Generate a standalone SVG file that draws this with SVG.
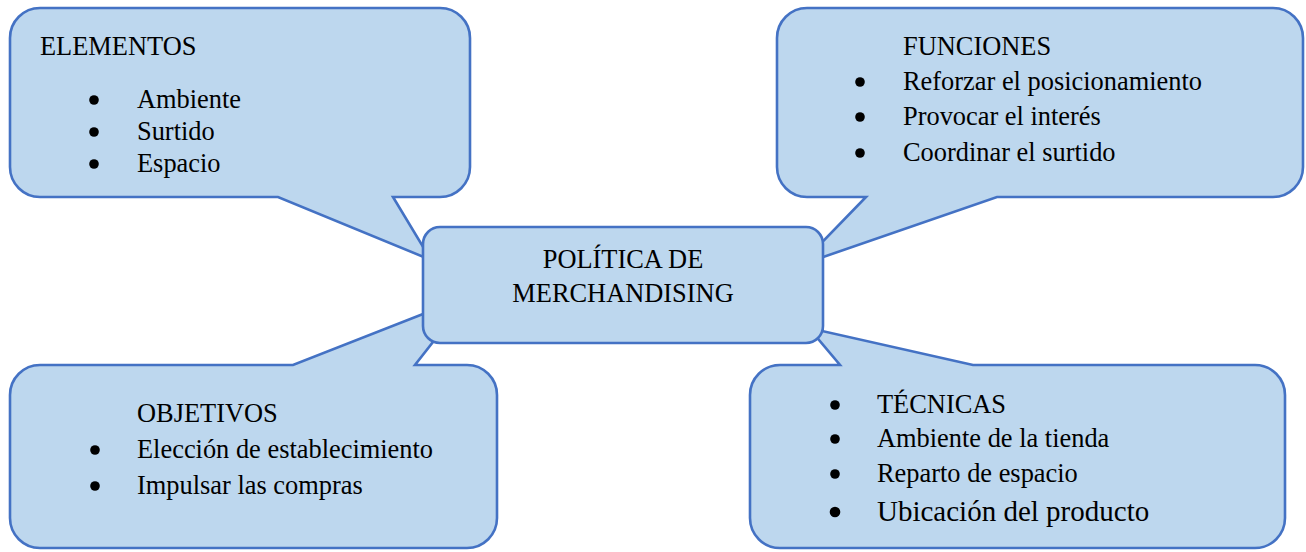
<svg xmlns="http://www.w3.org/2000/svg" width="1306" height="552" viewBox="0 0 1306 552">
  <style>
    .shape { fill: #BDD7EE; stroke: #4472C4; stroke-width: 2.6; stroke-linejoin: miter; }
    .txt { font-family: "Liberation Serif", "Times New Roman", serif; font-size: 26.4px; fill: #000; }
    .big { font-size: 29px; }
    .dot { fill: #000; }
  </style>
  <rect width="1306" height="552" fill="#ffffff"/>

  <!-- Callout: ELEMENTOS (pointer tucked under the centre box) -->
  <g id="elementos">
    <path class="shape" d="M 40,8 H 440 A 30 30 0 0 1 470,38 V 167 A 30 30 0 0 1 440,197 H 393 L 431,260 L 278,197 H 40 A 30 30 0 0 1 10,167 V 38 A 30 30 0 0 1 40,8 Z"/>
    <text class="txt" x="40" y="55">ELEMENTOS</text>
    <circle class="dot" cx="94" cy="100" r="4.8"/>
    <text class="txt" x="137" y="108">Ambiente</text>
    <circle class="dot" cx="94" cy="132" r="4.8"/>
    <text class="txt" x="137" y="140">Surtido</text>
    <circle class="dot" cx="94" cy="164" r="4.8"/>
    <text class="txt" x="137" y="172">Espacio</text>
  </g>

  <!-- Callout: FUNCIONES -->
  <g id="funciones">
    <path class="shape" d="M 807,8 H 1273 A 30 30 0 0 1 1303,38 V 167 A 30 30 0 0 1 1273,197 H 997 L 800,265 L 866,197 H 807 A 30 30 0 0 1 777,167 V 38 A 30 30 0 0 1 807,8 Z"/>
    <text class="txt" x="903" y="55">FUNCIONES</text>
    <circle class="dot" cx="860" cy="82" r="4.8"/>
    <text class="txt" x="903" y="90">Reforzar el posicionamiento</text>
    <circle class="dot" cx="860" cy="117" r="4.8"/>
    <text class="txt" x="903" y="125">Provocar el interés</text>
    <circle class="dot" cx="860" cy="153" r="4.8"/>
    <text class="txt" x="903" y="161">Coordinar el surtido</text>
  </g>

  <!-- Callout: OBJETIVOS -->
  <g id="objetivos">
    <path class="shape" d="M 40,365 H 293 L 469,296 L 415,365 H 467 A 30 30 0 0 1 497,395 V 518 A 30 30 0 0 1 467,548 H 40 A 30 30 0 0 1 10,518 V 395 A 30 30 0 0 1 40,365 Z"/>
    <text class="txt" x="137" y="422">OBJETIVOS</text>
    <circle class="dot" cx="95" cy="450" r="4.8"/>
    <text class="txt" x="137" y="458">Elección de establecimiento</text>
    <circle class="dot" cx="95" cy="486" r="4.8"/>
    <text class="txt" x="137" y="494">Impulsar las compras</text>
  </g>

  <!-- Callout: TÉCNICAS -->
  <g id="tecnicas">
    <path class="shape" d="M 780,365 H 840 L 809,328 L 973,365 H 1255 A 30 30 0 0 1 1285,395 V 518 A 30 30 0 0 1 1255,548 H 780 A 30 30 0 0 1 750,518 V 395 A 30 30 0 0 1 780,365 Z"/>
    <circle class="dot" cx="835" cy="405" r="4.8"/>
    <text class="txt" x="877" y="413">TÉCNICAS</text>
    <circle class="dot" cx="835" cy="439" r="4.8"/>
    <text class="txt" x="877" y="447">Ambiente de la tienda</text>
    <circle class="dot" cx="835" cy="474" r="4.8"/>
    <text class="txt" x="877" y="482">Reparto de espacio</text>
    <circle class="dot" cx="835" cy="512" r="5.3"/>
    <text class="txt big" x="877" y="521">Ubicación del producto</text>
  </g>

  <!-- Central node -->
  <g id="politica">
    <rect class="shape" x="423" y="227" width="400" height="116" rx="17" ry="17"/>
    <text class="txt" x="623" y="268" text-anchor="middle">POLÍTICA DE</text>
    <text class="txt" x="623" y="302" text-anchor="middle">MERCHANDISING</text>
  </g>
</svg>
